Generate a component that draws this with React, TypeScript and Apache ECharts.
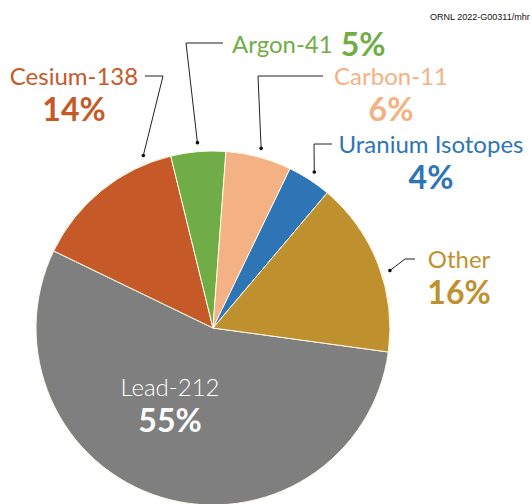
import React, { useEffect, useRef } from "react";
import * as echarts from "echarts";

const NAMES = ["Lead-212", "Cesium-138", "Argon-41", "Carbon-11", "Uranium Isotopes", "Other"];
const VALUES = [55, 14, 5, 6, 4, 16];
const COLORS = ["#7f7f7f", "#c55a28", "#70ad47", "#f4b183", "#2e75b6", "#bf912e"];
const LABEL_COLORS = ["#ffffff", "#c55a28", "#70ad47", "#f4b183", "#2e75b6", "#bf912e"];
const INLINE = [false, false, true, false, false, false];
const CREDIT = "ORNL 2022-G00311/mhr";

// layout (pixels)
const CENTER = [213, 328];
const RADIUS = 177;
const DOT_RADIUS = 186;
const START_ANGLE = -7.8;
const LABEL_POS: any[] = [
  { x: 170, y: 370, align: "center" },
  { x: 74, y: 59, align: "center", elbow: [163, 76], end: [145, 76], shift: -17 },
  { x: 232, y: 26, align: "left", elbow: [186, 43], end: [223, 43], shift: 0 },
  { x: 391, y: 59, align: "center", elbow: [258, 76], end: [323, 76], shift: 0 },
  { x: 431, y: 127, align: "center", elbow: [314, 144], end: [332, 144], shift: 0 },
  { x: 459, y: 242, align: "center", elbow: [405, 259], end: [415, 259], shift: -3 },
];

const FONT = "Lato, 'Noto Sans', sans-serif";

function anchorPoints() {
  const total = VALUES.reduce((a, b) => a + b, 0);
  let acc = 0;
  return VALUES.map((v, i) => {
    const a0 = START_ANGLE - (acc / total) * 360;
    acc += v;
    const a1 = START_ANGLE - (acc / total) * 360;
    const mid = (a0 + a1) / 2 + (LABEL_POS[i].shift || 0);
    const rad = (mid * Math.PI) / 180;
    return [CENTER[0] + DOT_RADIUS * Math.cos(rad), CENTER[1] - DOT_RADIUS * Math.sin(rad)];
  });
}

export default function App() {
  const ref = useRef<HTMLDivElement>(null);
  useEffect(() => {
    document.body.style.margin = "0";
    const chart = echarts.init(ref.current!, null, { renderer: "svg" });
    const anchors = anchorPoints();
    const data = NAMES.map((name, i) => ({
      name,
      value: VALUES[i],
      itemStyle: { color: COLORS[i] },
      labelLine: { show: i !== 0 },
      label: {
        rich: {
          n: {
            fontFamily: FONT,
            fontSize: 24,
            fontWeight: i === 0 ? 300 : "normal",
            color: LABEL_COLORS[i],
            lineHeight: 32,
          },
          s: { width: 8, fontSize: 24, lineHeight: 32 },
          p: {
            fontFamily: FONT,
            fontSize: 32,
            fontWeight: "bold",
            color: LABEL_COLORS[i],
            lineHeight: 34,
          },
        },
      },
    }));
    chart.setOption({
      animation: false,
      backgroundColor: "#ffffff",
      graphic: [
        {
          type: "text",
          right: 2,
          top: 12,
          style: { text: CREDIT, font: "9px 'Liberation Sans', Arial, sans-serif", fill: "#111" },
        },
        ...anchors.slice(1).map((p) => ({
          type: "circle",
          shape: { cx: p[0], cy: p[1], r: 1.8 },
          style: { fill: "#111" },
          z: 100,
        })),
      ],
      series: [
        {
          type: "pie",
          center: CENTER,
          radius: RADIUS,
          startAngle: START_ANGLE,
          clockwise: true,
          avoidLabelOverlap: false,
          itemStyle: { borderColor: "#fffbe8", borderWidth: 1 },
          label: {
            show: true,
            formatter: (p: any) =>
              INLINE[p.dataIndex]
                ? `{n|${p.name}}{s| }{p|${p.value}%}`
                : `{n|${p.name}}\n{p|${p.value}%}`,
          },
          labelLine: { show: true, lineStyle: { color: "#222", width: 1 } },
          labelLayout: (params: any) => {
            const i = params.dataIndex;
            const L = LABEL_POS[i];
            const out: any = { x: L.x, y: L.y, align: L.align, verticalAlign: "top" };
            if (L.elbow) out.labelLinePoints = [anchors[i], L.elbow, L.end];
            return out;
          },
          data,
        },
      ],
    });
    return () => chart.dispose();
  }, []);
  return <div ref={ref} style={{ width: 532, height: 504, position: "absolute", left: 0, top: 0 }} />;
}
